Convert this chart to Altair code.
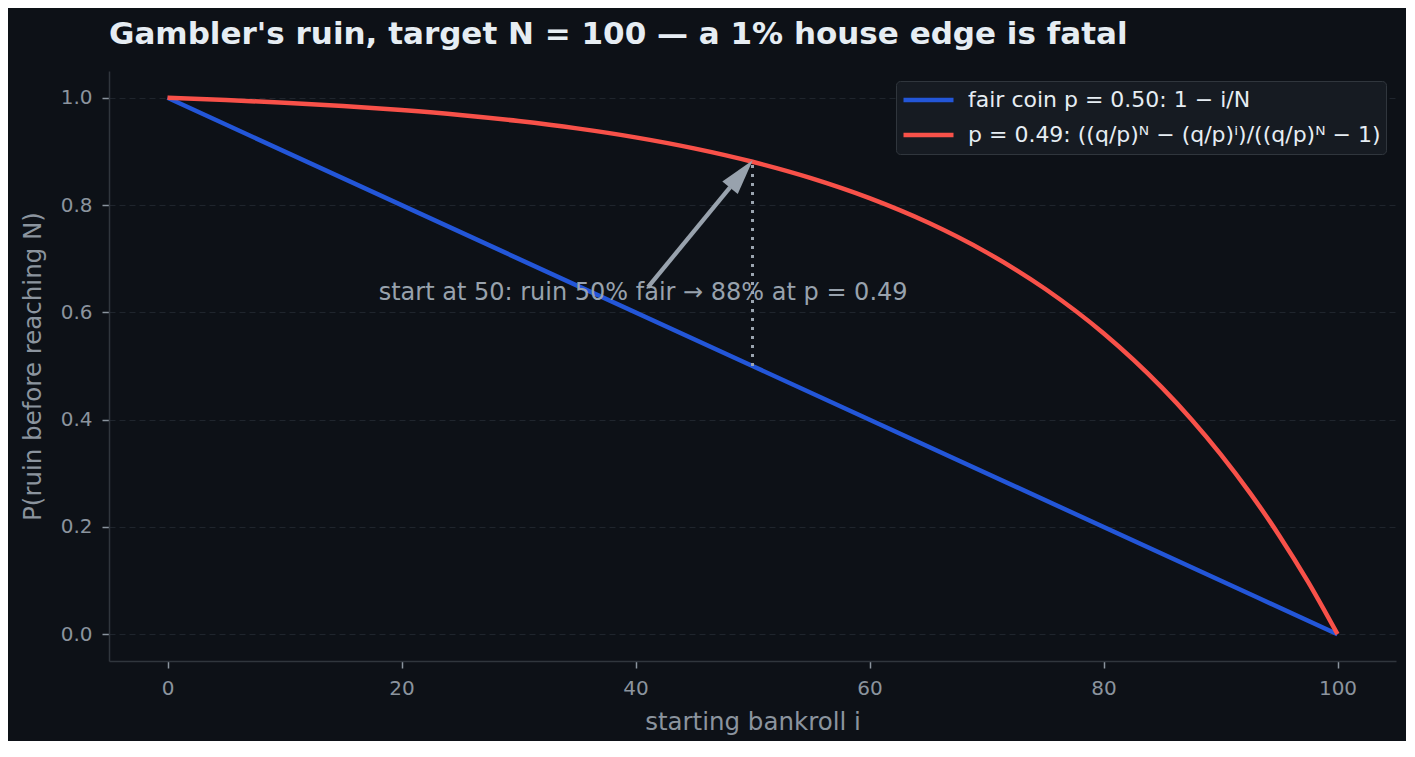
"""Gambler's ruin: fair coin vs. a 1% house edge."""

from __future__ import annotations

import altair as alt
import pandas as pd


BG = "#0d1117"
INK = "#e6edf3"
MUTED = "#8b949e"
NOTE = "#98a2ad"
DOMAIN = "#30363d"
GRID = "#1f252d"
BLUE = "#2356d8"
RED = "#f85149"
FONT = "DejaVu Sans"

FAIR_LABEL = "fair coin p = 0.50: 1 \u2212 i/N"
EDGE_LABEL = "p = 0.49: ((q/p)\u1d3a \u2212 (q/p)\u2071)/((q/p)\u1d3a \u2212 1)"

# fair coin: straight line from ruin 1 at i=0 to 0 at i=N
fair_i = [0, 50, 100]
fair_ruin = [1.0, 0.5, 0.0]

# p = 0.49
edge_i = [0, 5, 10, 15, 20, 25, 30, 35, 40, 45, 50, 55, 60, 65, 70, 75,
          80, 85, 87.5, 90, 92.5, 95, 97.5, 100]
edge_ruin = [1.0000, 0.9959, 0.9908, 0.9847, 0.9771, 0.9680, 0.9567, 0.9430,
             0.9263, 0.9058, 0.8808, 0.8503, 0.8130, 0.7675, 0.7119, 0.6440,
             0.5610, 0.4596, 0.4009, 0.3358, 0.2640, 0.1846, 0.0969, 0.0000]

x_ticks = [0, 20, 40, 60, 80, 100]
y_ticks = [0.0, 0.2, 0.4, 0.6, 0.8, 1.0]

# annotation anchors (data coordinates)
start_i = 50
fair_at_start = 0.50
edge_at_start = 0.88
note_text = "start at 50: ruin 50% fair \u2192 88% at p = 0.49"
note_x, note_y = 40.65, 0.636
arrow_tail = (41.07, 0.647)
arrow_base = (48.08, 0.833)
arrow_head = (49.05, 0.858)

fair_df = pd.DataFrame({"i": fair_i, "ruin": fair_ruin, "series": FAIR_LABEL})
edge_df = pd.DataFrame({"i": edge_i, "ruin": edge_ruin, "series": EDGE_LABEL})

x_scale = alt.Scale(domain=[-5, 105], nice=False, zero=False)
y_scale = alt.Scale(domain=[-0.05, 1.05], nice=False, zero=False)
color_scale = alt.Scale(domain=[FAIR_LABEL, EDGE_LABEL], range=[BLUE, RED])

x_enc = alt.X(
    "i:Q",
    scale=x_scale,
    title="starting bankroll i",
    axis=alt.Axis(values=x_ticks, grid=False, format="d"),
)
y_enc = alt.Y(
    "ruin:Q",
    scale=y_scale,
    title="P(ruin before reaching N)",
    axis=alt.Axis(values=y_ticks, format=".1f", grid=True),
)
color_enc = alt.Color("series:N", scale=color_scale, title=None)


def curve(df: pd.DataFrame) -> alt.Chart:
    return (
        alt.Chart(df)
        .mark_line(strokeWidth=4.5, interpolate="monotone")
        .encode(x=x_enc, y=y_enc, color=color_enc)
    )


guide_df = pd.DataFrame({"i": [start_i], "lo": [fair_at_start], "hi": [edge_at_start]})
guide = (
    alt.Chart(guide_df)
    .mark_rule(color="#9ba5b0", strokeWidth=3, strokeDash=[3, 6])
    .encode(x=alt.X("i:Q", scale=x_scale), y=alt.Y("lo:Q", scale=y_scale), y2="hi:Q")
)

shaft_df = pd.DataFrame({
    "x": [arrow_tail[0]], "y": [arrow_tail[1]],
    "x2": [arrow_base[0]], "y2": [arrow_base[1]],
})
shaft = (
    alt.Chart(shaft_df)
    .mark_rule(color=NOTE, strokeWidth=4.3)
    .encode(
        x=alt.X("x:Q", scale=x_scale), y=alt.Y("y:Q", scale=y_scale),
        x2="x2:Q", y2="y2:Q",
    )
)

head_df = pd.DataFrame({"x": [arrow_head[0]], "y": [arrow_head[1]]})
head = (
    alt.Chart(head_df)
    .mark_point(
        shape="M0,-1L0.56,1L-0.56,1Z", filled=True, size=1274, angle=39.5,
        opacity=1, color=NOTE, strokeWidth=0,
    )
    .encode(x=alt.X("x:Q", scale=x_scale), y=alt.Y("y:Q", scale=y_scale))
)

note_df = pd.DataFrame({"x": [note_x], "y": [note_y], "text": [note_text]})
note = (
    alt.Chart(note_df)
    .mark_text(font=FONT, fontSize=24, color=NOTE, align="center", baseline="middle")
    .encode(x=alt.X("x:Q", scale=x_scale), y=alt.Y("y:Q", scale=y_scale), text="text:N")
)

chart = (
    alt.layer(curve(fair_df), curve(edge_df), guide, shaft, head, note)
    .properties(
        width=1287,
        height=590,
        autosize=alt.AutoSizeParams(type="none"),
        padding={"left": 101, "top": 63, "right": 10, "bottom": 80},
        title=alt.TitleParams(
            "Gambler's ruin, target N = 100 \u2014 a 1% house edge is fatal",
            anchor="start", frame="group", font=FONT, fontSize=31,
            fontWeight="bold", color=INK, offset=20,
        ),
    )
    .configure(background=BG)
    .configure_view(strokeWidth=0)
    .configure_axis(
        labelFont=FONT, titleFont=FONT, labelFontSize=20, titleFontSize=24.5,
        titleFontWeight="normal", labelColor=MUTED, titleColor=MUTED,
        domainColor=DOMAIN, domainWidth=1.5, tickColor=MUTED, tickSize=7,
        tickWidth=1.5, labelPadding=10, gridColor=GRID, gridDash=[6, 4],
        gridWidth=1,
    )
    .configure_axisX(titlePadding=12)
    .configure_axisY(titlePadding=15)
    .configure_legend(
        orient="top-right", offset=10, fillColor="#161b22", strokeColor=DOMAIN,
        cornerRadius=4, padding=5, labelFont=FONT, labelFontSize=22,
        labelColor=INK, labelLimit=800, symbolType="stroke", symbolSize=2500,
        symbolStrokeWidth=4.5, labelOffset=12, rowPadding=7, clipHeight=28,
    )
)

chart.save("out.html", embed_options={"renderer": "svg", "actions": False})
